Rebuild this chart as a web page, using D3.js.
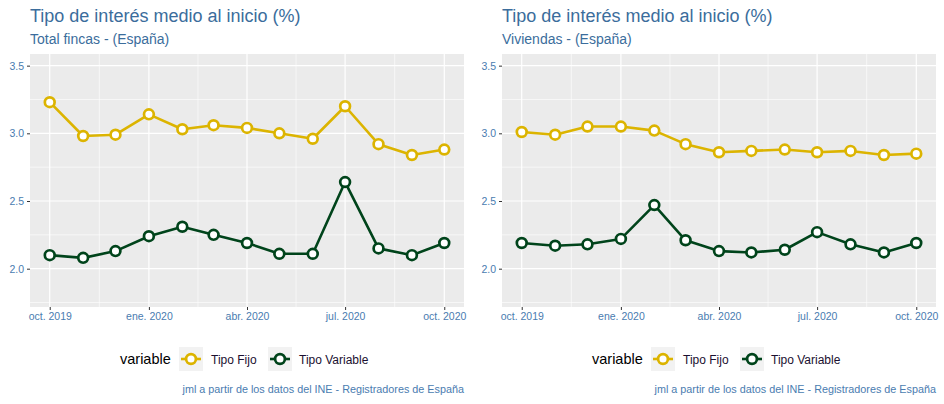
<!DOCTYPE html>
<html>
<head>
<meta charset="utf-8">
<script src="https://cdn.jsdelivr.net/npm/d3@7"></script>
<style>
body{margin:0;background:#fff;}
svg{display:block;font-family:"Liberation Sans",Arial,sans-serif;}
</style>
</head>
<body>
<svg id="chart" width="944" height="404"></svg>
<script>
const months = ["2019-10","2019-11","2019-12","2020-01","2020-02","2020-03","2020-04","2020-05","2020-06","2020-07","2020-08","2020-09","2020-10"];
const totalFijo = [3.23,2.98,2.99,3.14,3.03,3.06,3.04,3.00,2.96,3.20,2.92,2.84,2.88];
const totalVariable = [2.10,2.08,2.13,2.24,2.31,2.25,2.19,2.11,2.11,2.64,2.15,2.10,2.19];
const vivFijo = [3.01,2.99,3.05,3.05,3.02,2.92,2.86,2.87,2.88,2.86,2.87,2.84,2.85];
const vivVariable = [2.19,2.17,2.18,2.22,2.47,2.21,2.13,2.12,2.14,2.27,2.18,2.12,2.19];
const xTickDates = ["2019-10","2020-01","2020-04","2020-07","2020-10"];
const xTickLabels = ["oct. 2019","ene. 2020","abr. 2020","jul. 2020","oct. 2020"];
const yTicks = [2.0,2.5,3.0,3.5];
const yMinor = [1.75,2.25,2.75,3.25];
const seriesNames = ["Tipo Fijo","Tipo Variable"];
const seriesColors = ["#dcb400","#00441b"];
const panels = [
  {sub:"Total fincas - (España)", data:[totalFijo,totalVariable]},
  {sub:"Viviendas - (España)", data:[vivFijo,vivVariable]}
];
const title = "Tipo de interés medio al inicio (%)";
const caption = "jml a partir de los datos del INE - Registradores de España";

const parse = d3.timeParse("%Y-%m");
const dates = months.map(parse);
const svg = d3.select("#chart");
const d0 = parse("2019-10"), d1 = parse("2020-10");
const span = d1 - d0;

const titleColor = "#3b6d9c";
const tickColor = "#4a7cb0";

panels.forEach((p, i) => {
  const ox = i === 0 ? 0 : 472;
  const g = svg.append("g").attr("transform", `translate(${ox},0)`);
  const L = 30, R = 464, T = 54, B = 307;
  const x = d3.scaleTime().domain([new Date(+d0 - span*0.05), new Date(+d1 + span*0.05)]).range([L, R]);
  const y = d3.scaleLinear().domain([1.717, 3.586]).range([B, T]);

  g.append("text").attr("x", L).attr("y", 22).attr("fill", titleColor)
    .style("font-size", "18px").text(title);
  g.append("text").attr("x", L).attr("y", 43.5).attr("fill", titleColor)
    .style("font-size", "14px").text(p.sub);

  g.append("rect").attr("x", L).attr("y", T).attr("width", R-L).attr("height", B-T).attr("fill", "#ebebeb");

  const majorX = xTickDates.map(parse);
  const minorX = [];
  for (let k = 0; k < majorX.length - 1; k++) minorX.push(new Date((+majorX[k] + +majorX[k+1]) / 2));

  g.selectAll(".ymin").data(yMinor).enter().append("line")
    .attr("x1", L).attr("x2", R).attr("y1", d => y(d)).attr("y2", d => y(d))
    .attr("stroke", "#fff").attr("stroke-width", 0.6);
  g.selectAll(".xmin").data(minorX).enter().append("line")
    .attr("y1", T).attr("y2", B).attr("x1", d => x(d)).attr("x2", d => x(d))
    .attr("stroke", "#fff").attr("stroke-width", 0.6);
  g.selectAll(".ymaj").data(yTicks).enter().append("line")
    .attr("x1", L).attr("x2", R).attr("y1", d => y(d)).attr("y2", d => y(d))
    .attr("stroke", "#fff").attr("stroke-width", 1.2);
  g.selectAll(".xmaj").data(majorX).enter().append("line")
    .attr("y1", T).attr("y2", B).attr("x1", d => x(d)).attr("x2", d => x(d))
    .attr("stroke", "#fff").attr("stroke-width", 1.2);

  const xAxis = d3.axisBottom(x).tickValues(majorX).tickFormat((d, k) => xTickLabels[k]).tickSize(3).tickPadding(3);
  const xa = g.append("g").attr("transform", `translate(0,${B})`).call(xAxis);
  xa.select(".domain").remove();
  xa.selectAll("line").attr("stroke", "#333").attr("stroke-width", 1);
  xa.selectAll("text").attr("fill", tickColor).style("font-size", "10.5px").style("font-family", "Liberation Sans, Arial, sans-serif");

  const yAxis = d3.axisLeft(y).tickValues(yTicks).tickFormat(d3.format(".1f")).tickSize(3).tickPadding(3);
  const ya = g.append("g").attr("transform", `translate(${L},0)`).call(yAxis);
  ya.select(".domain").remove();
  ya.selectAll("line").attr("stroke", "#333").attr("stroke-width", 1);
  ya.selectAll("text").attr("fill", tickColor).style("font-size", "10.5px").style("font-family", "Liberation Sans, Arial, sans-serif");

  const line = d3.line().x((d, k) => x(dates[k])).y(d => y(d));
  p.data.forEach((vals, s) => {
    g.append("path").datum(vals).attr("d", line).attr("fill", "none")
      .attr("stroke", seriesColors[s]).attr("stroke-width", 2.6).attr("stroke-linejoin", "round");
    g.selectAll(".pt" + s).data(vals).enter().append("circle")
      .attr("cx", (d, k) => x(dates[k])).attr("cy", d => y(d)).attr("r", 4.9)
      .attr("fill", "#fff").attr("stroke", seriesColors[s]).attr("stroke-width", 2.7);
  });

  const lg = g.append("g");
  lg.append("text").attr("x", 120).attr("y", 364).attr("fill", "#000").style("font-size", "14.5px").text("variable");
  const keyX = [179, 268], labX = [211, 299];
  seriesNames.forEach((n, s) => {
    lg.append("rect").attr("x", keyX[s]).attr("y", 347).attr("width", 24).attr("height", 24).attr("fill", "#f2f2f2");
    lg.append("line").attr("x1", keyX[s]+2).attr("x2", keyX[s]+22).attr("y1", 359).attr("y2", 359)
      .attr("stroke", seriesColors[s]).attr("stroke-width", 2.6);
    lg.append("circle").attr("cx", keyX[s]+12).attr("cy", 359).attr("r", 4.9)
      .attr("fill", "#fff").attr("stroke", seriesColors[s]).attr("stroke-width", 2.7);
    lg.append("text").attr("x", labX[s]).attr("y", 363.5).attr("fill", "#1a1030").style("font-size", "12px").text(n);
  });

  g.append("text").attr("x", R).attr("y", 393).attr("text-anchor", "end").attr("fill", tickColor)
    .style("font-size", "10.8px").text(caption);
});
</script>
</body>
</html>
